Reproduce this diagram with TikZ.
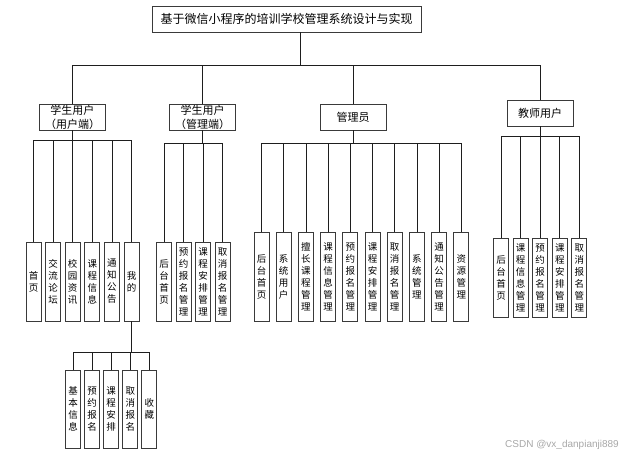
\documentclass[tikz,border=0pt]{standalone}
\usepackage{fontspec}
\setmainfont{Noto Sans CJK SC}
\newfontfamily\marksans{Liberation Sans}
\usepackage{tikz}
\usetikzlibrary{positioning}
\definecolor{boxline}{HTML}{3A3A3A}
\definecolor{linkline}{HTML}{1E1E1E}
\definecolor{markgray}{HTML}{A8A8A8}
% one character per line for the narrow boxes
\newcommand\vstack[1]{\vstackstep#1\vstackend}
\def\vstackstep#1#2\vstackend{#1\ifx\relax#2\relax\else\\\vstackstep#2\vstackend\fi}
\tikzset{
  titlebox/.style={draw=boxline, line width=0.9pt, outer sep=0pt, inner sep=0pt, minimum width=269pt, minimum height=26pt, font=\fontsize{12}{14}\selectfont},
  rolebox/.style={draw=boxline, line width=0.9pt, outer sep=0pt, inner sep=0pt, align=center, minimum width=66pt, minimum height=26pt, font=\fontsize{11}{14}\selectfont},
  leafbox/.style={draw=boxline, line width=0.9pt, outer sep=0pt, inner sep=0pt, align=center, text width=11pt, minimum width=15pt, minimum height=79pt, font=\fontsize{9.5}{12}\selectfont},
  link/.style={draw=linkline, line width=0.7pt},
  watermark/.style={text=markgray, font=\marksans\fontsize{10}{12}\selectfont, inner sep=0pt}
}
\begin{document}
\begin{tikzpicture}[x=1pt, y=-1pt, node distance=4.6pt]
  \fill[white] (0,0) rectangle (631,456);
  \useasboundingbox (0,0) rectangle (631,456);
  \node[titlebox] (title) at (286.5,19) {基于微信小程序的培训学校管理系统设计与实现};
  \node[rolebox] (stuapp) at (72.5,117) {学生用户\\（用户端）};
  \node[rolebox] (stumgr) at (202.5,117) {学生用户\\（管理端）};
  \node[rolebox] (admin) at (353,117) {管理员};
  \node[rolebox] (teacher) at (540,113) {教师用户};
  % student app
  \node[leafbox] (home) at (33.5,281.5) {\vstack{首页}};
  \node[leafbox, right=of home] (forum) {\vstack{交流论坛}};
  \node[leafbox, right=of forum] (news) {\vstack{校园资讯}};
  \node[leafbox, right=of news] (course) {\vstack{课程信息}};
  \node[leafbox, right=of course] (notice) {\vstack{通知公告}};
  \node[leafbox, right=of notice] (mine) {\vstack{我的}};
  \node[leafbox, minimum height=78pt] (info) at (73,409) {\vstack{基本信息}};
  \node[leafbox, minimum height=78pt, right=4.1pt of info] (mbook) {\vstack{预约报名}};
  \node[leafbox, minimum height=78pt, right=4.1pt of mbook] (msched) {\vstack{课程安排}};
  \node[leafbox, minimum height=78pt, right=4.1pt of msched] (mcancel) {\vstack{取消报名}};
  \node[leafbox, minimum height=78pt, right=4.1pt of mcancel] (fav) {\vstack{收藏}};
  % student manager
  \node[leafbox] (shome) at (164,281.5) {\vstack{后台首页}};
  \node[leafbox, right=4.5pt of shome] (sbook) {\vstack{预约报名管理}};
  \node[leafbox, right=4.5pt of sbook] (ssched) {\vstack{课程安排管理}};
  \node[leafbox, right=4.5pt of ssched] (scancel) {\vstack{取消报名管理}};
  % admin
  \node[leafbox, minimum height=89pt] (ahome) at (261.5,276.5) {\vstack{后台首页}};
  \node[leafbox, minimum height=89pt, right=7.2pt of ahome] (auser) {\vstack{系统用户}};
  \node[leafbox, minimum height=89pt, right=7.2pt of auser] (askill) {\vstack{擅长课程管理}};
  \node[leafbox, minimum height=89pt, right=7.2pt of askill] (acourse) {\vstack{课程信息管理}};
  \node[leafbox, minimum height=89pt, right=7.2pt of acourse] (abook) {\vstack{预约报名管理}};
  \node[leafbox, minimum height=89pt, right=7.2pt of abook] (asched) {\vstack{课程安排管理}};
  \node[leafbox, minimum height=89pt, right=7.2pt of asched] (acancel) {\vstack{取消报名管理}};
  \node[leafbox, minimum height=89pt, right=7.2pt of acancel] (asys) {\vstack{系统管理}};
  \node[leafbox, minimum height=89pt, right=7.2pt of asys] (anotice) {\vstack{通知公告管理}};
  \node[leafbox, minimum height=89pt, right=7.2pt of anotice] (ares) {\vstack{资源管理}};
  % teacher
  \node[leafbox] (thome) at (501,277.5) {\vstack{后台首页}};
  \node[leafbox, right=of thome] (tcourse) {\vstack{课程信息管理}};
  \node[leafbox, right=of tcourse] (tbook) {\vstack{预约报名管理}};
  \node[leafbox, right=of tbook] (tsched) {\vstack{课程安排管理}};
  \node[leafbox, right=of tsched] (tcancel) {\vstack{取消报名管理}};
  \node[watermark] (wm) at (562,445) {CSDN @vx\_danpianji889};
  % connectors
  \coordinate (root) at (300,65);
  \coordinate (bus1) at (72.5,140);
  \coordinate (bus2) at (202.5,143);
  \coordinate (bus3) at (353,143);
  \coordinate (bus4) at (540,136);
  \coordinate (bus5) at (131.5,352);
  \draw[link] (title.south -| root) -- (root);
  \draw[link] (stuapp.north) |- (root) (stumgr.north) |- (root) (admin.north) |- (root) (teacher.north) |- (root);
  \draw[link] (stuapp.south) -- (bus1);
  \draw[link] (home.north) |- (bus1) (forum.north) |- (bus1) (news.north) |- (bus1)
    (course.north) |- (bus1) (notice.north) |- (bus1) (mine.north) |- (bus1);
  \draw[link] (mine.south) -- (bus5);
  \draw[link] (info.north) |- (bus5) (mbook.north) |- (bus5) (msched.north) |- (bus5)
    (mcancel.north) |- (bus5) (fav.north) |- (bus5);
  \draw[link] (stumgr.south) -- (bus2);
  \draw[link] (shome.north) |- (bus2) (sbook.north) |- (bus2) (ssched.north) |- (bus2) (scancel.north) |- (bus2);
  \draw[link] (admin.south) -- (bus3);
  \draw[link] (ahome.north) |- (bus3) (auser.north) |- (bus3) (askill.north) |- (bus3)
    (acourse.north) |- (bus3) (abook.north) |- (bus3) (asched.north) |- (bus3)
    (acancel.north) |- (bus3) (asys.north) |- (bus3) (anotice.north) |- (bus3) (ares.north) |- (bus3);
  \draw[link] (teacher.south) -- (bus4);
  \draw[link] (thome.north) |- (bus4) (tcourse.north) |- (bus4) (tbook.north) |- (bus4)
    (tsched.north) |- (bus4) (tcancel.north) |- (bus4);
\end{tikzpicture}
\end{document}
